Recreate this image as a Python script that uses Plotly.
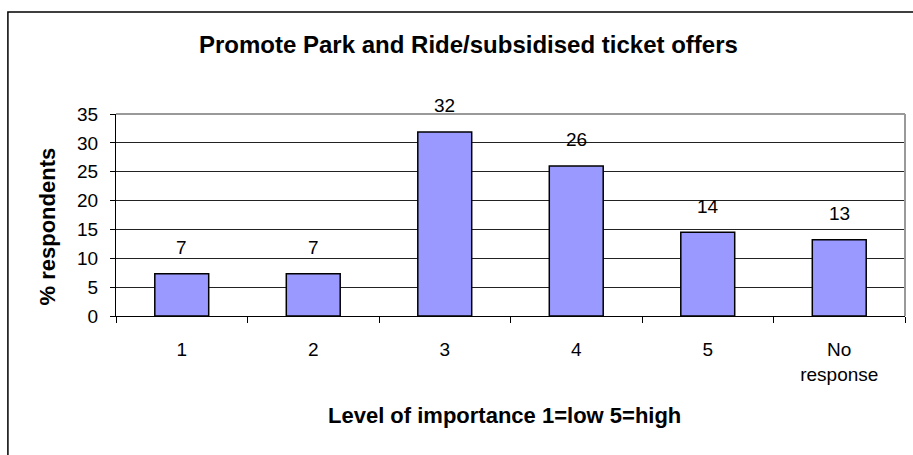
import plotly.graph_objects as go

categories = ["1", "2", "3", "4", "5", "No<br>response"]
values = [7.3, 7.3, 31.9, 26.0, 14.5, 13.2]
labels = ["7", "7", "32", "26", "14", "13"]

font = "Liberation Sans, Arial, sans-serif"

fig = go.Figure()
fig.add_trace(go.Bar(
    x=categories, y=values,
    marker=dict(color="#9999FF", line=dict(color="black", width=1.5)),
    hoverinfo="skip",
))

# value labels sit a little above each bar, Excel style
for i, (v, t) in enumerate(zip(values, labels)):
    fig.add_annotation(x=i, y=v, text=t, showarrow=False, yshift=26,
                       font=dict(size=19, color="black", family=font))

fig.update_layout(
    width=913, height=455,
    margin=dict(l=116, r=8, t=114, b=139),
    paper_bgcolor="white", plot_bgcolor="white",
    showlegend=False, bargap=0.59,
    font=dict(family=font, color="black", size=19),
)

fig.update_yaxes(range=[0, 35], dtick=5, showgrid=True, gridcolor="#222", gridwidth=1,
                 showline=True, linecolor="black", linewidth=1,
                 ticks="outside", ticklen=5, tickcolor="black",
                 ticklabelstandoff=8, zeroline=False, fixedrange=True)
fig.update_xaxes(type="category", showline=True, linecolor="black", linewidth=1,
                 ticks="outside", ticklen=6, tickcolor="black", tickson="boundaries",
                 ticklabelstandoff=16, showgrid=False, fixedrange=True)

# titles
fig.add_annotation(text="<b>Promote Park and Ride/subsidised ticket offers</b>",
                   xref="paper", yref="paper", x=0.447, y=1.0, yshift=85,
                   showarrow=False, font=dict(size=24))
fig.add_annotation(text="<b>% respondents</b>", textangle=-90,
                   xref="paper", yref="paper", x=0, xshift=-84, y=0.5, yshift=-12,
                   showarrow=False, font=dict(size=22))
fig.add_annotation(text="<b>Level of importance 1=low 5=high</b>",
                   xref="paper", yref="paper", x=0.493, y=0, yshift=-114,
                   showarrow=False, font=dict(size=22))

# grey plot-area edge (top and right) and the outer chart frame
fig.add_shape(type="line", xref="paper", yref="paper", x0=0, x1=1, y0=1, y1=1,
              line=dict(color="#999", width=2))
fig.add_shape(type="line", xref="paper", yref="paper", x0=1, x1=1, y0=0, y1=1,
              line=dict(color="#999", width=2))
fig.add_shape(type="rect", xref="paper", yref="paper", x0=-0.137, x1=1.1, y0=-1.0, y1=1.505,
              line=dict(color="black", width=1.5))

fig.write_html("out.html", config={"displayModeBar": False},
               post_script="document.body.style.margin='0';document.body.style.overflow='hidden';")
